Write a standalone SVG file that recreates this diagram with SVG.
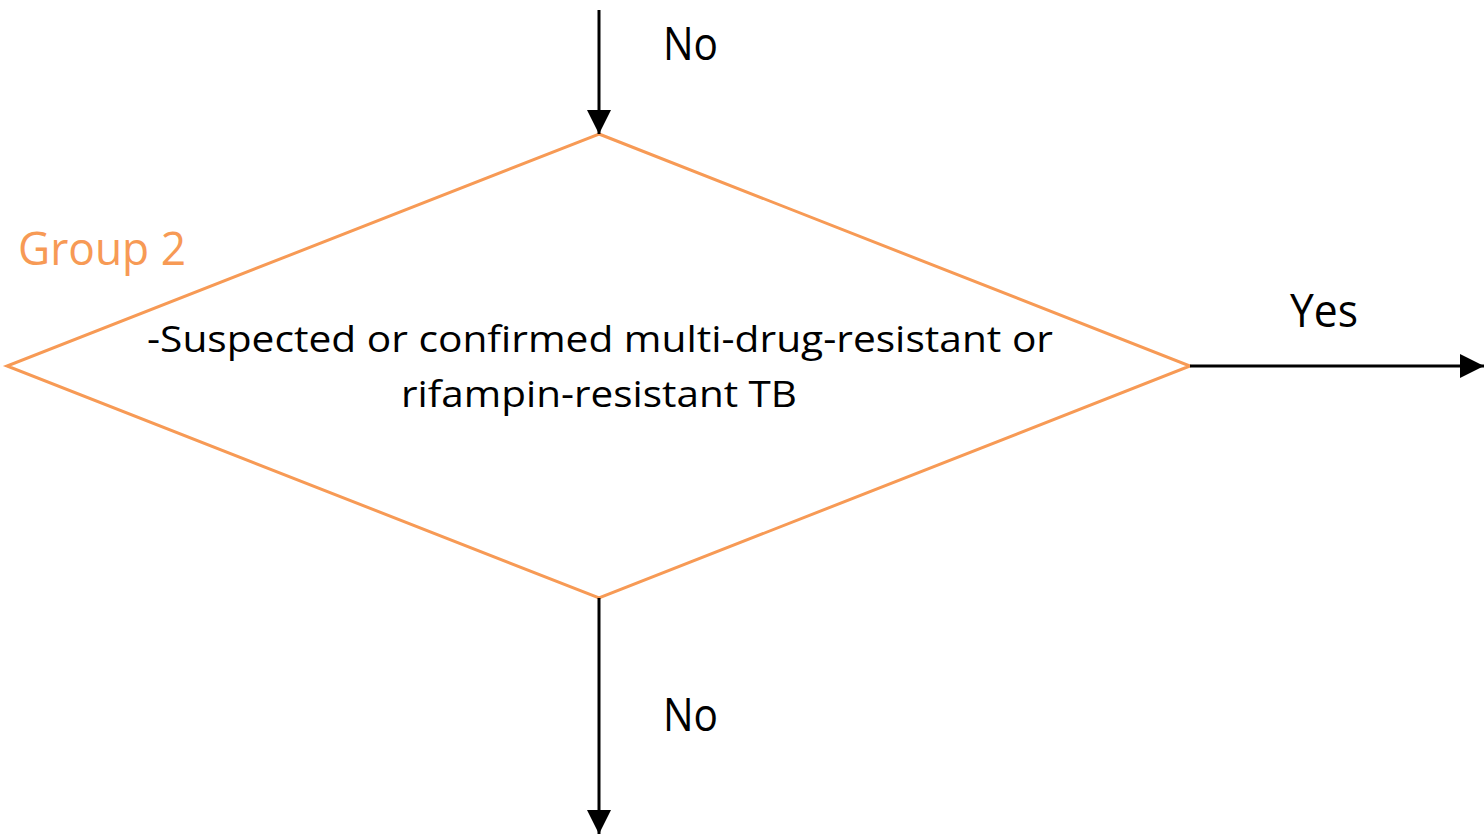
<svg xmlns="http://www.w3.org/2000/svg" width="1484" height="835" viewBox="0 0 1484 835">
  <style>
    .lbl { font-family: "Open Sans", "Noto Sans", sans-serif; fill: #000; }
    .big { font-size: 45px; }
    .body { font-size: 37px; }
    .grp { font-family: "Open Sans", "Noto Sans", sans-serif; font-size: 45px; fill: #F79A55; }
    .shape { fill: #fff; stroke: #F79A55; stroke-width: 3; }
    .wire { fill: none; stroke: #000; stroke-width: 3; }
  </style>
  <defs>
    <marker id="head" viewBox="0 0 10 10" refX="10" refY="5" markerWidth="8" markerHeight="8" markerUnits="strokeWidth" orient="auto">
      <path d="M0,0 L10,5 L0,10 Z" fill="#000"/>
    </marker>
  </defs>
  <rect width="1484" height="835" fill="#fff"/>

  <g id="decision">
    <polygon class="shape" points="599,134 1190,366 599,598 7,366"/>
    <text class="lbl body" x="600" y="352" text-anchor="middle" textLength="906" lengthAdjust="spacingAndGlyphs">-Suspected or confirmed multi-drug-resistant or</text>
    <text class="lbl body" x="599" y="407" text-anchor="middle" textLength="396" lengthAdjust="spacingAndGlyphs">rifampin-resistant TB</text>
  </g>

  <g id="group-label">
    <text class="grp" x="18" y="265" textLength="168" lengthAdjust="spacingAndGlyphs">Group 2</text>
  </g>

  <g id="connectors">
    <line class="wire" x1="599" y1="10" x2="599" y2="134" marker-end="url(#head)"/>
    <line class="wire" x1="1190" y1="366" x2="1484" y2="366" marker-end="url(#head)"/>
    <line class="wire" x1="599" y1="598" x2="599" y2="834" marker-end="url(#head)"/>
    <text class="lbl big" x="663" y="60" textLength="55" lengthAdjust="spacingAndGlyphs">No</text>
    <text class="lbl big" x="1290" y="327" textLength="68" lengthAdjust="spacingAndGlyphs">Yes</text>
    <text class="lbl big" x="663" y="731" textLength="55" lengthAdjust="spacingAndGlyphs">No</text>
  </g>
</svg>
